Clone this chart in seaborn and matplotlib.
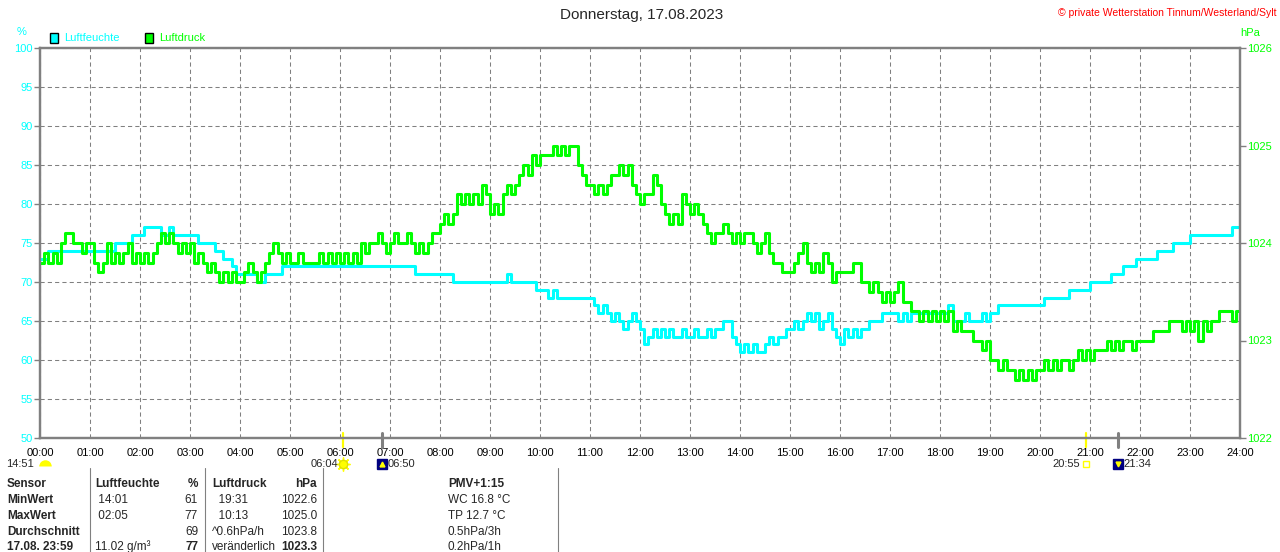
import numpy as np
import matplotlib.pyplot as plt
import matplotlib.patches as mpatches
import pandas as pd
import seaborn as sns

W, H = 1280, 552
CYAN = "#00FFFF"
GREEN = "#00FF00"
GRAY = "#808080"
YELLOW = "#FFFF00"
NAVY = "#000080"

title = "Donnerstag, 17.08.2023"
station = "\u00a9 private Wetterstation Tinnum/Westerland/Sylt"

# readings every 5 minutes, one line per hour (00:00 ... 23:55)
humidity = [
    73, 73, 74, 74, 74, 74, 74, 74, 74, 74, 74, 74,
    74, 74, 74, 74, 74, 74, 75, 75, 75, 75, 76, 76,
    76, 77, 77, 77, 77, 76, 76, 77, 76, 76, 76, 76,
    76, 76, 75, 75, 75, 75, 74, 74, 73, 73, 72, 71,
    71, 71, 71, 71, 70, 70, 71, 71, 71, 71, 72, 72,
    72, 72, 72, 72, 72, 72, 72, 72, 72, 72, 72, 72,
    72, 72, 72, 72, 72, 72, 72, 72, 72, 72, 72, 72,
    72, 72, 72, 72, 72, 72, 71, 71, 71, 71, 71, 71,
    71, 71, 71, 70, 70, 70, 70, 70, 70, 70, 70, 70,
    70, 70, 70, 70, 71, 70, 70, 70, 70, 70, 70, 69,
    69, 69, 68, 69, 68, 68, 68, 68, 68, 68, 68, 68,
    68, 67, 66, 67, 66, 65, 66, 65, 64, 65, 66, 65,
    64, 62, 63, 64, 63, 64, 63, 64, 63, 63, 64, 63,
    63, 64, 63, 63, 64, 63, 64, 64, 65, 65, 63, 62,
    61, 62, 61, 62, 61, 61, 62, 63, 62, 63, 63, 64,
    64, 65, 64, 65, 66, 65, 66, 64, 65, 66, 64, 63,
    62, 64, 63, 64, 63, 64, 64, 65, 65, 65, 66, 66,
    66, 66, 65, 66, 65, 66, 66, 66, 66, 66, 66, 66,
    66, 66, 67, 65, 65, 65, 66, 65, 65, 65, 66, 65,
    66, 66, 67, 67, 67, 67, 67, 67, 67, 67, 67, 67,
    67, 68, 68, 68, 68, 68, 68, 69, 69, 69, 69, 69,
    70, 70, 70, 70, 70, 71, 71, 71, 72, 72, 72, 73,
    73, 73, 73, 73, 74, 74, 74, 74, 75, 75, 75, 75,
    76, 76, 76, 76, 76, 76, 76, 76, 76, 76, 77, 77,
]

pressure = [
    1023.8, 1023.9, 1023.8, 1023.9, 1023.8, 1024.0, 1024.1, 1024.1, 1024.0, 1024.0, 1023.9, 1024.0,
    1024.0, 1023.8, 1023.7, 1023.8, 1024.0, 1023.8, 1023.9, 1023.8, 1023.9, 1024.0, 1023.8, 1023.9,
    1023.8, 1023.9, 1023.8, 1023.9, 1024.0, 1024.1, 1024.0, 1024.1, 1024.0, 1023.9, 1024.0, 1023.9,
    1024.0, 1023.8, 1023.9, 1023.8, 1023.7, 1023.8, 1023.7, 1023.6, 1023.7, 1023.6, 1023.7, 1023.6,
    1023.6, 1023.7, 1023.8, 1023.7, 1023.6, 1023.7, 1023.8, 1023.9, 1024.0, 1023.9, 1023.8, 1023.9,
    1023.8, 1023.8, 1023.9, 1023.8, 1023.8, 1023.8, 1023.8, 1023.9, 1023.8, 1023.9, 1023.8, 1023.9,
    1023.8, 1023.9, 1023.8, 1023.9, 1023.8, 1024.0, 1023.9, 1024.0, 1024.0, 1024.1, 1024.0, 1023.9,
    1024.0, 1024.1, 1024.0, 1024.0, 1024.1, 1024.0, 1023.9, 1024.0, 1023.9, 1024.0, 1024.1, 1024.1,
    1024.2, 1024.3, 1024.2, 1024.3, 1024.5, 1024.4, 1024.5, 1024.4, 1024.5, 1024.4, 1024.6, 1024.5,
    1024.3, 1024.4, 1024.3, 1024.5, 1024.6, 1024.5, 1024.6, 1024.7, 1024.8, 1024.7, 1024.9, 1024.8,
    1024.9, 1024.9, 1024.9, 1025.0, 1024.9, 1025.0, 1024.9, 1025.0, 1025.0, 1024.8, 1024.7, 1024.6,
    1024.6, 1024.5, 1024.6, 1024.5, 1024.6, 1024.7, 1024.7, 1024.8, 1024.7, 1024.8, 1024.6, 1024.5,
    1024.4, 1024.5, 1024.5, 1024.7, 1024.6, 1024.4, 1024.3, 1024.2, 1024.3, 1024.2, 1024.5, 1024.4,
    1024.3, 1024.4, 1024.3, 1024.2, 1024.1, 1024.0, 1024.1, 1024.1, 1024.2, 1024.1, 1024.0, 1024.1,
    1024.0, 1024.1, 1024.1, 1024.0, 1023.9, 1024.0, 1024.1, 1023.9, 1023.8, 1023.8, 1023.7, 1023.7,
    1023.7, 1023.8, 1023.9, 1024.0, 1023.8, 1023.7, 1023.8, 1023.7, 1023.9, 1023.8, 1023.6, 1023.7,
    1023.7, 1023.7, 1023.7, 1023.8, 1023.8, 1023.6, 1023.6, 1023.5, 1023.6, 1023.5, 1023.4, 1023.5,
    1023.4, 1023.5, 1023.6, 1023.4, 1023.4, 1023.3, 1023.3, 1023.2, 1023.3, 1023.2, 1023.3, 1023.2,
    1023.3, 1023.2, 1023.3, 1023.1, 1023.2, 1023.1, 1023.1, 1023.1, 1023.0, 1023.0, 1022.9, 1023.0,
    1022.8, 1022.8, 1022.7, 1022.8, 1022.7, 1022.7, 1022.6, 1022.7, 1022.6, 1022.7, 1022.6, 1022.7,
    1022.7, 1022.8, 1022.7, 1022.8, 1022.7, 1022.8, 1022.8, 1022.7, 1022.8, 1022.9, 1022.8, 1022.9,
    1022.8, 1022.9, 1022.9, 1022.9, 1023.0, 1022.9, 1023.0, 1022.9, 1023.0, 1023.0, 1022.9, 1023.0,
    1023.0, 1023.0, 1023.0, 1023.1, 1023.1, 1023.1, 1023.1, 1023.2, 1023.2, 1023.2, 1023.1, 1023.2,
    1023.1, 1023.2, 1023.0, 1023.2, 1023.1, 1023.2, 1023.2, 1023.3, 1023.3, 1023.3, 1023.2, 1023.3,
]

hour_labels = ["%02d:00" % h for h in range(25)]
humidity_ticks = list(range(50, 101, 5))
pressure_ticks = [1022, 1023, 1024, 1025, 1026]

sunrise, sunset = "06:04", "20:55"
moonrise, moonset = "06:50", "21:34"
day_length = "14:51"

table_rows = [
    ["Sensor", "Luftfeuchte", "%", "Luftdruck", "hPa", "PMV+1:15"],
    ["MinWert", " 14:01", "61", "  19:31", "1022.6", "WC 16.8 \u00b0C"],
    ["MaxWert", " 02:05", "77", "  10:13", "1025.0", "TP 12.7 \u00b0C"],
    ["Durchschnitt", "", "69", "^0.6hPa/h", "1023.8", "0.5hPa/3h"],
    ["17.08. 23:59", "11.02 g/m\u00b3", "77", "ver\u00e4nderlich", "1023.3", "0.2hPa/1h"],
]


def to_hours(s):
    h, m = s.split(":")
    return int(h) + int(m) / 60


def fx(px):
    return px / W


def fy(py):
    return 1 - py / H


def ay(py):
    # pixel row -> axes fraction (axes spans rows 48..438)
    return (438 - py) / 390


df = pd.DataFrame({
    "hour": np.arange(len(humidity)) * 5 / 60,
    "Luftfeuchte": humidity,
    "Luftdruck": pressure,
})
# hold the last reading until 24:00
df = pd.concat([df, df.iloc[[-1]].assign(hour=24.0)], ignore_index=True)

sns.set_style("white")
plt.rcParams["font.family"] = ["Liberation Sans", "DejaVu Sans"]

fig = plt.figure(figsize=(W / 100, H / 100), dpi=100)
ax = fig.add_axes([fx(40), fy(438), 1200 / W, 390 / H])
ax2 = ax.twinx()

sns.lineplot(data=df, x="hour", y="Luftfeuchte", ax=ax, color=CYAN, lw=2.2,
             drawstyle="steps-post", estimator=None, legend=False)
sns.lineplot(data=df, x="hour", y="Luftdruck", ax=ax2, color=GREEN, lw=2.2,
             drawstyle="steps-post", estimator=None, legend=False)

ax.set_xlim(0, 24)
ax.set_ylim(50, 100)
ax2.set_ylim(1022, 1026)
ax.set_xticks(range(25))
ax.set_xticklabels(hour_labels)
ax.set_yticks(humidity_ticks)
ax2.set_yticks(pressure_ticks)
for a in (ax, ax2):
    a.set_xlabel("")
    a.set_ylabel("")
    for sp in a.spines.values():
        sp.set_visible(True)
        sp.set_color(GRAY)
        sp.set_linewidth(1.6)

ax.grid(True, color=GRAY, linestyle=(0, (4, 3)), linewidth=0.75)
ax.set_axisbelow(True)
ax.tick_params(axis="x", bottom=False, labelsize=8, pad=3.5, labelcolor="black")
ax.tick_params(axis="y", left=True, length=4, width=1, color=GRAY,
               labelcolor=CYAN, labelsize=8, pad=1)
ax2.tick_params(axis="y", right=True, length=4, width=1, color=GRAY,
                labelcolor=GREEN, labelsize=8, pad=1)

# header
fig.text(fx(642), fy(15), title, ha="center", va="center", fontsize=11)
fig.text(fx(1277), fy(13), station, ha="right", va="center", fontsize=7.5, color="red")
fig.text(fx(22), fy(32), "%", ha="center", va="center", fontsize=8, color=CYAN)
fig.text(fx(1250), fy(33), "hPa", ha="center", va="center", fontsize=8, color=GREEN)

for x0, col, name in [(50, CYAN, "Luftfeuchte"), (145, GREEN, "Luftdruck")]:
    fig.patches.append(mpatches.Rectangle((fx(x0), fy(43)), 8 / W, 10 / H,
                                          transform=fig.transFigure, facecolor=col,
                                          edgecolor="black", lw=1))
    fig.text(fx(x0 + 14), fy(38), name, ha="left", va="center", fontsize=8, color=col)

# sun and moon marks below the time axis
trans = ax.get_xaxis_transform()
for t, col, lw in [(sunrise, YELLOW, 1.6), (sunset, YELLOW, 1.6),
                   (moonrise, GRAY, 2.2), (moonset, GRAY, 2.2)]:
    ax.plot([to_hours(t)] * 2, [ay(433), ay(447)], color=col, lw=lw,
            transform=trans, clip_on=False)

ty = ay(464)
ax.annotate(sunrise, xy=(to_hours(sunrise), ty), xycoords=trans, xytext=(-4, 0),
            textcoords="offset points", ha="right", va="center", fontsize=8)
ax.plot([to_hours(sunrise)], [ty], marker=(8, 2, 0), ms=10, mec=YELLOW, mew=1,
        transform=trans, clip_on=False)
ax.plot([to_hours(sunrise)], [ty], marker="o", ms=6, mfc=YELLOW, mec="#E0E000",
        transform=trans, clip_on=False)

ax.annotate(sunset, xy=(to_hours(sunset), ty), xycoords=trans, xytext=(-4, 0),
            textcoords="offset points", ha="right", va="center", fontsize=8)
ax.plot([to_hours(sunset)], [ty], marker="s", ms=4.5, mfc="none", mec=YELLOW, mew=1,
        transform=trans, clip_on=False)

for t, arrow in [(moonrise, "^"), (moonset, "v")]:
    ax.plot([to_hours(t)], [ty], marker="s", ms=7.5, mfc=NAVY, mec=NAVY,
            transform=trans, clip_on=False)
    ax.plot([to_hours(t)], [ty], marker=arrow, ms=3.5, mfc=YELLOW, mec=YELLOW,
            transform=trans, clip_on=False)
    ax.annotate(t, xy=(to_hours(t), ty), xycoords=trans, xytext=(4, 0),
                textcoords="offset points", ha="left", va="center", fontsize=8)

fig.text(fx(6), fy(464), day_length, ha="left", va="center", fontsize=8)
ax.plot([0.1], [ay(466)], marker="o", ms=9, fillstyle="top", mfc=YELLOW,
        mfcalt="none", mec="none", transform=trans, clip_on=False)

# table
for x in [90, 205, 323, 558]:
    fig.add_artist(plt.Line2D([fx(x), fx(x)], [fy(468), fy(552)], color=GRAY, lw=0.8))

cols = [(7, "left"), (95, "left"), (198, "right"), (212, "left"), (317, "right"), (448, "left")]
row_y = [484, 500, 516, 532, 547]
for r, (row, y) in enumerate(zip(table_rows, row_y)):
    for c, (text, (x, ha)) in enumerate(zip(row, cols)):
        bold = r == 0 or c == 0 or (r == 4 and c in (2, 4))
        fig.text(fx(x), fy(y), text, ha=ha, va="center", fontsize=8.5,
                 fontweight="bold" if bold else "normal")

fig.savefig("out.png", dpi=100)
